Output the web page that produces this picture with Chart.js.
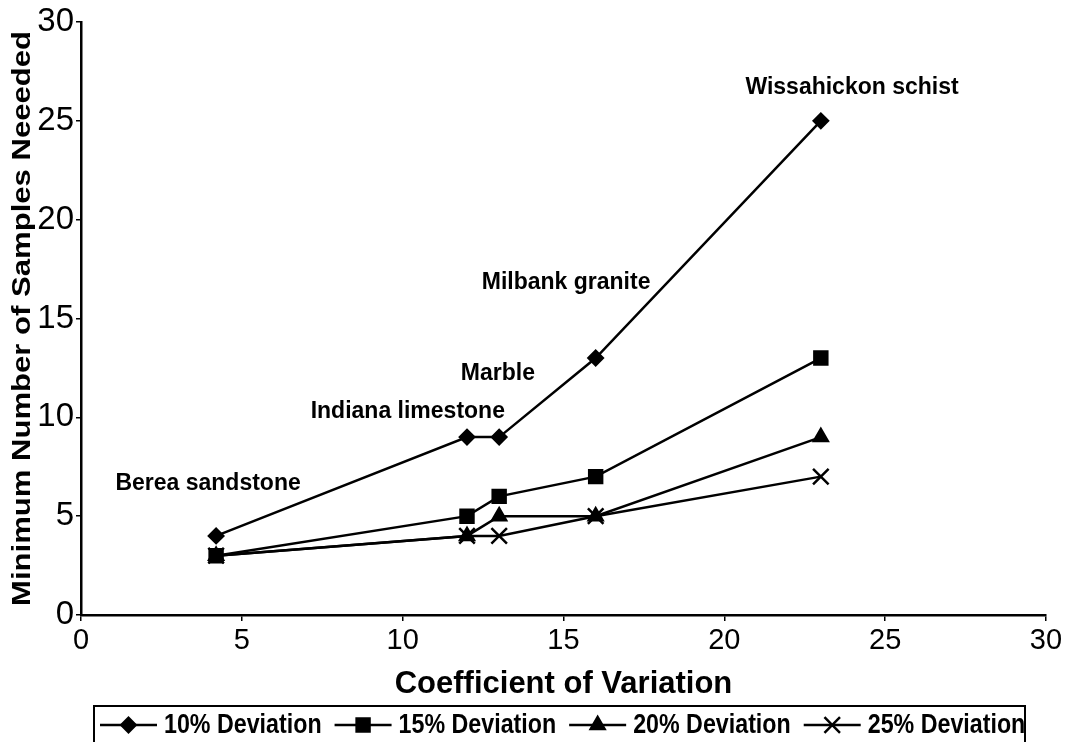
<!DOCTYPE html>
<html>
<head>
<meta charset="utf-8">
<script src="https://cdn.jsdelivr.net/npm/chart.js@4"></script>
<style>
html,body{margin:0;padding:0;background:#fff;}
#wrap{width:1067px;height:742px;position:relative;}
</style>
</head>
<body>
<div id="wrap"><canvas id="c" width="1067" height="742"></canvas></div>
<script>
// ---- data ----
const coefVariation = [4.2, 12, 13, 16, 23];
const dev10 = [4, 9, 9, 13, 25];
const dev15 = [3, 5, 6, 7, 13];
const dev20 = [3, 4, 5, 5, 9];
const dev25 = [3, 4, 4, 5, 7];
const seriesNames = ['10% Deviation', '15% Deviation', '20% Deviation', '25% Deviation'];
const rockNames = ['Berea sandstone', 'Indiana limestone', 'Marble', 'Milbank granite', 'Wissahickon schist'];
const rockLabelX = [3.95, 10.16, 12.96, 15.08, 23.97];
const rockLabelY = [6.63, 10.27, 12.2, 16.8, 26.66];
const xTicks = [0, 5, 10, 15, 20, 25, 30];
const yTicks = [0, 5, 10, 15, 20, 25, 30];
const yTitle = 'Minimum Number of Samples Neeeded';

const SANS = "'Liberation Sans', Arial, sans-serif";

const styles = [
  {pointStyle: 'rectRot', radius: 7.5, bw: 2},
  {pointStyle: 'rect', radius: 9.5, bw: 2},
  {pointStyle: 'triangle', radius: 8.5, bw: 2},
  {pointStyle: 'crossRot', radius: 11, bw: 2.5}
];
const allSeries = [dev10, dev15, dev20, dev25];

const datasets = allSeries.map((vals, i) => ({
  label: seriesNames[i],
  data: coefVariation.map((x, j) => ({x: x, y: vals[j]})),
  showLine: true,
  borderColor: '#000',
  backgroundColor: '#000',
  borderWidth: 2.5,
  pointStyle: styles[i].pointStyle,
  pointRadius: styles[i].radius,
  pointBorderColor: '#000',
  pointBackgroundColor: '#000',
  pointBorderWidth: styles[i].bw,
  tension: 0
}));

const annotationPlugin = {
  id: 'rockLabels',
  afterDatasetsDraw(chart) {
    const ctx = chart.ctx, xs = chart.scales.x, ys = chart.scales.y;
    ctx.save();
    ctx.fillStyle = '#000';
    ctx.font = 'bold 23px ' + SANS;
    ctx.textAlign = 'center';
    ctx.textBaseline = 'middle';
    rockNames.forEach((n, i) => {
      ctx.fillText(n, xs.getPixelForValue(rockLabelX[i]), ys.getPixelForValue(rockLabelY[i]));
    });
    ctx.restore();
  }
};

const yTitlePlugin = {
  id: 'yTitle',
  afterDraw(chart) {
    const ctx = chart.ctx, area = chart.chartArea;
    ctx.save();
    ctx.font = 'bold 25px ' + SANS;
    ctx.fillStyle = '#000';
    ctx.textAlign = 'center';
    ctx.textBaseline = 'middle';
    const w = ctx.measureText(yTitle).width;
    const stretch = 575 / w;
    ctx.translate(23, (area.top + area.bottom) / 2);
    ctx.rotate(-Math.PI / 2);
    ctx.scale(stretch, 1);
    ctx.fillText(yTitle, 0, 0);
    ctx.restore();
  }
};

const legendPlugin = {
  id: 'boxLegend',
  afterDraw(chart) {
    const ctx = chart.ctx;
    const boxLeft = 94, boxRight = 1025, boxTop = 706;
    const squeeze = 0.83;
    ctx.save();
    ctx.strokeStyle = '#000';
    ctx.lineWidth = 2;
    ctx.strokeRect(boxLeft, boxTop, boxRight - boxLeft, 60);
    ctx.font = 'bold 28px ' + SANS;
    ctx.textBaseline = 'middle';
    ctx.fillStyle = '#000';
    const cy = 725;
    let x = 100;
    seriesNames.forEach((name, i) => {
      const segW = 57;
      ctx.beginPath();
      ctx.lineWidth = 2.5;
      ctx.moveTo(x, cy);
      ctx.lineTo(x + segW, cy);
      ctx.stroke();
      ctx.lineWidth = styles[i].bw;
      Chart.helpers.drawPoint(ctx, {
        pointStyle: styles[i].pointStyle,
        radius: styles[i].radius,
        rotation: 0,
        borderWidth: styles[i].bw
      }, x + segW / 2, cy);
      ctx.fillStyle = '#000';
      ctx.strokeStyle = '#000';
      const tx = x + segW + 7;
      ctx.save();
      ctx.translate(tx, cy);
      ctx.scale(squeeze, 1);
      ctx.fillText(name, 0, 0);
      ctx.restore();
      x = tx + ctx.measureText(name).width * squeeze + 13;
    });
    ctx.restore();
  }
};

new Chart(document.getElementById('c'), {
  type: 'scatter',
  data: {datasets: datasets},
  plugins: [annotationPlugin, yTitlePlugin, legendPlugin],
  options: {
    responsive: false,
    animation: false,
    layout: {padding: {top: 22, right: 21, bottom: 39, left: 0}},
    plugins: {legend: {display: false}, tooltip: {enabled: false}},
    scales: {
      x: {
        type: 'linear', min: 0, max: 30,
        afterBuildTicks(s) { s.ticks = xTicks.map(v => ({value: v})); },
        afterFit(s) { s.height = 88; },
        border: {color: '#000', width: 2.5},
        grid: {drawOnChartArea: false, drawTicks: true, tickLength: 6, color: '#000', lineWidth: 1.5},
        ticks: {color: '#000', font: {family: SANS, size: 29}, padding: 3, maxRotation: 0},
        title: {display: true, text: 'Coefficient of Variation', color: '#000',
                font: {family: SANS, size: 31, weight: 'bold'}, padding: {top: 0, bottom: 0}}
      },
      y: {
        type: 'linear', min: 0, max: 30,
        afterBuildTicks(s) { s.ticks = yTicks.map(v => ({value: v})); },
        afterFit(s) { s.width = 81; },
        border: {color: '#000', width: 2.5},
        grid: {drawOnChartArea: false, drawTicks: true, tickLength: 5, color: '#000', lineWidth: 1.5},
        ticks: {color: '#000', font: {family: SANS, size: 33}, padding: 2},
        title: {display: false}
      }
    }
  }
});
</script>
</body>
</html>
